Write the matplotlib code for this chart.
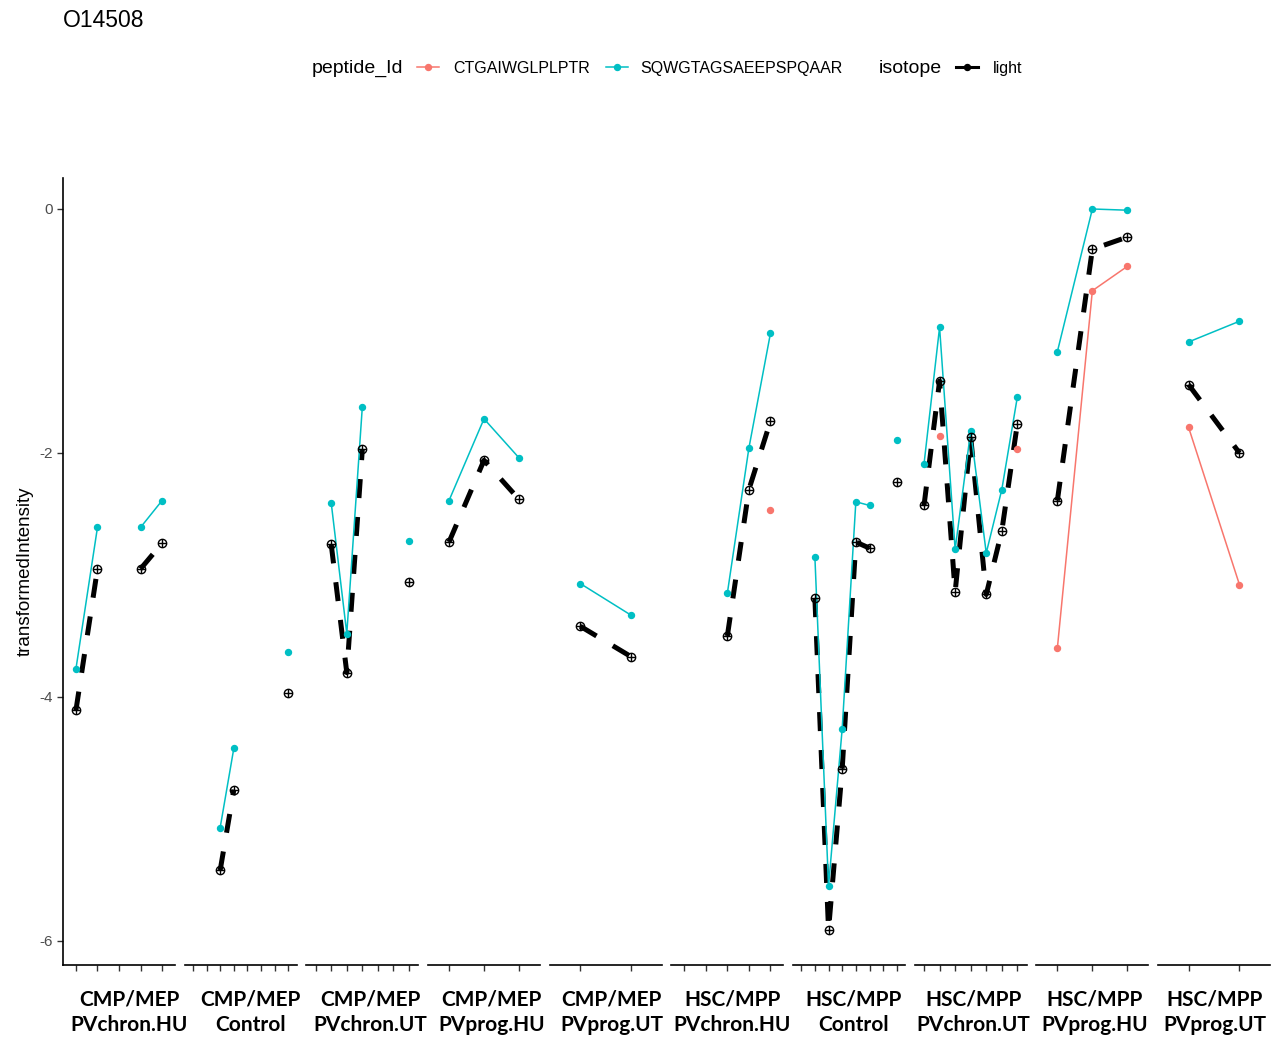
import matplotlib.pyplot as plt
from matplotlib.lines import Line2D
import numpy as np

nan = np.nan

# facet labels (cell type / condition) and number of samples in each facet
cell_types = ["CMP/MEP"] * 5 + ["HSC/MPP"] * 5
conditions = ["PVchron.HU", "Control", "PVchron.UT", "PVprog.HU", "PVprog.UT"] * 2
n_samples = [5, 8, 7, 3, 2, 5, 8, 7, 3, 2]

# transformed intensities per facet, one entry per sample (nan = not measured)
ctgaiwglplptr = [
    [nan, nan, nan, nan, nan],
    [nan, nan, nan, nan, nan, nan, nan, nan],
    [nan, nan, nan, nan, nan, nan, nan],
    [nan, nan, nan],
    [nan, nan],
    [nan, nan, nan, nan, -2.47],
    [nan, nan, nan, nan, nan, nan, nan, nan],
    [nan, -1.86, nan, nan, nan, nan, -1.97],
    [-3.60, -0.67, -0.47],
    [-1.79, -3.08],
]
sqwgtagsaeepspqaar = [
    [-3.77, -2.61, nan, -2.61, -2.39],
    [nan, nan, -5.07, -4.42, nan, nan, nan, -3.63],
    [nan, -2.41, -3.48, -1.62, nan, nan, -2.72],
    [-2.39, -1.72, -2.04],
    [-3.07, -3.33],
    [nan, nan, -3.15, -1.96, -1.02],
    [nan, -2.85, -5.55, -4.26, -2.40, -2.43, nan, -1.89],
    [-2.09, -0.97, -2.79, -1.82, -2.82, -2.30, -1.54],
    [-1.17, 0.00, -0.01],
    [-1.09, -0.92],
]
light = [
    [-4.11, -2.95, nan, -2.95, -2.74],
    [nan, nan, -5.42, -4.76, nan, nan, nan, -3.97],
    [nan, -2.75, -3.80, -1.97, nan, nan, -3.06],
    [-2.73, -2.06, -2.38],
    [-3.42, -3.67],
    [nan, nan, -3.50, -2.30, -1.74],
    [nan, -3.19, -5.91, -4.59, -2.73, -2.78, nan, -2.24],
    [-2.43, -1.41, -3.14, -1.87, -3.16, -2.64, -1.76],
    [-2.39, -0.33, -0.23],
    [-1.44, -2.00],
]

RED = "#F8766D"
CYAN = "#00BFC4"
W, H = 1283, 1040
plt.rcParams["font.family"] = ["Liberation Sans", "DejaVu Sans"]

fig = plt.figure(figsize=(W / 100, H / 100), dpi=100)


def px_axes(left, top, width, height):
    return fig.add_axes([left / W, 1 - (top + height) / H, width / W, height / H])


def fx(x):
    return x / W


def fy(y):
    return 1 - y / H


dash = (0, (3.8, 3.8))
top, bottom = 178, 965
for i, n in enumerate(n_samples):
    left = 63 + i * 121.67
    ax = px_axes(left, top, 112, bottom - top)
    x = np.arange(1, n + 1)
    ax.plot(x, light[i], color="black", lw=3.6, ls=dash, zorder=2)
    ax.plot(x, ctgaiwglplptr[i], color=RED, lw=1.1, marker="o", ms=4.3, zorder=3)
    ax.plot(x, sqwgtagsaeepspqaar[i], color=CYAN, lw=1.1, marker="o", ms=4.3, zorder=3)
    ax.plot(x, light[i], ls="none", marker="o", mfc="none", mec="black",
            ms=6, mew=1.0, zorder=4)
    ax.plot(x, light[i], ls="none", marker="+", color="black", ms=6, mew=1.0, zorder=4)

    ax.set_xlim(0.4, n + 0.6)
    ax.set_ylim(-6.197, 0.254)
    ax.set_xticks(x)
    ax.set_xticklabels([])
    ax.tick_params(axis="x", length=4, width=1, color="#333333")
    for s in ("top", "right"):
        ax.spines[s].set_visible(False)
    ax.spines["bottom"].set_linewidth(1.2)
    if i == 0:
        ax.spines["left"].set_linewidth(1.2)
        ax.set_yticks([-6, -4, -2, 0])
        ax.set_yticklabels(["-6", "-4", "-2", "0"], color="#4D4D4D", fontsize=11)
        ax.tick_params(axis="y", length=4, width=1, color="#333333", pad=3)
        ax.set_ylabel("transformedIntensity", fontsize=13.5, labelpad=4)
    else:
        ax.spines["left"].set_visible(False)
        ax.set_yticks([])

    # facet strip text under each panel
    cx = 129.5 + i * 120.6
    fig.text(fx(cx), fy(1005), cell_types[i], ha="center", va="baseline",
             fontsize=15, fontweight="bold", family="Lato")
    fig.text(fx(cx), fy(1031), conditions[i], ha="center", va="baseline",
             fontsize=15, fontweight="bold", family="Lato")

# title
fig.text(fx(63), fy(27), "O14508", ha="left", va="baseline", fontsize=16.5)

# legend across the top
base = 73
fig.text(fx(312), fy(base), "peptide_Id", ha="left", va="baseline", fontsize=14)
fig.text(fx(879), fy(base), "isotope", ha="left", va="baseline", fontsize=14)
fig.text(fx(453), fy(base), "CTGAIWGLPLPTR", ha="left", va="baseline", fontsize=11.5)
fig.text(fx(640), fy(base), "SQWGTAGSAEEPSPQAAR", ha="left", va="baseline", fontsize=11.5)
fig.text(fx(993), fy(base), "light", ha="left", va="baseline", fontsize=11.5)
for x0, col, lw in [(428, RED, 1.1), (617, CYAN, 1.1), (967, "black", 2.2)]:
    fig.add_artist(Line2D([fx(x0 - 11), fx(x0 + 11)], [fy(67), fy(67)], color=col, lw=lw))
    fig.add_artist(Line2D([fx(x0)], [fy(67)], color=col, marker="o", ms=4.3))

fig.savefig("out.png", dpi=100)
